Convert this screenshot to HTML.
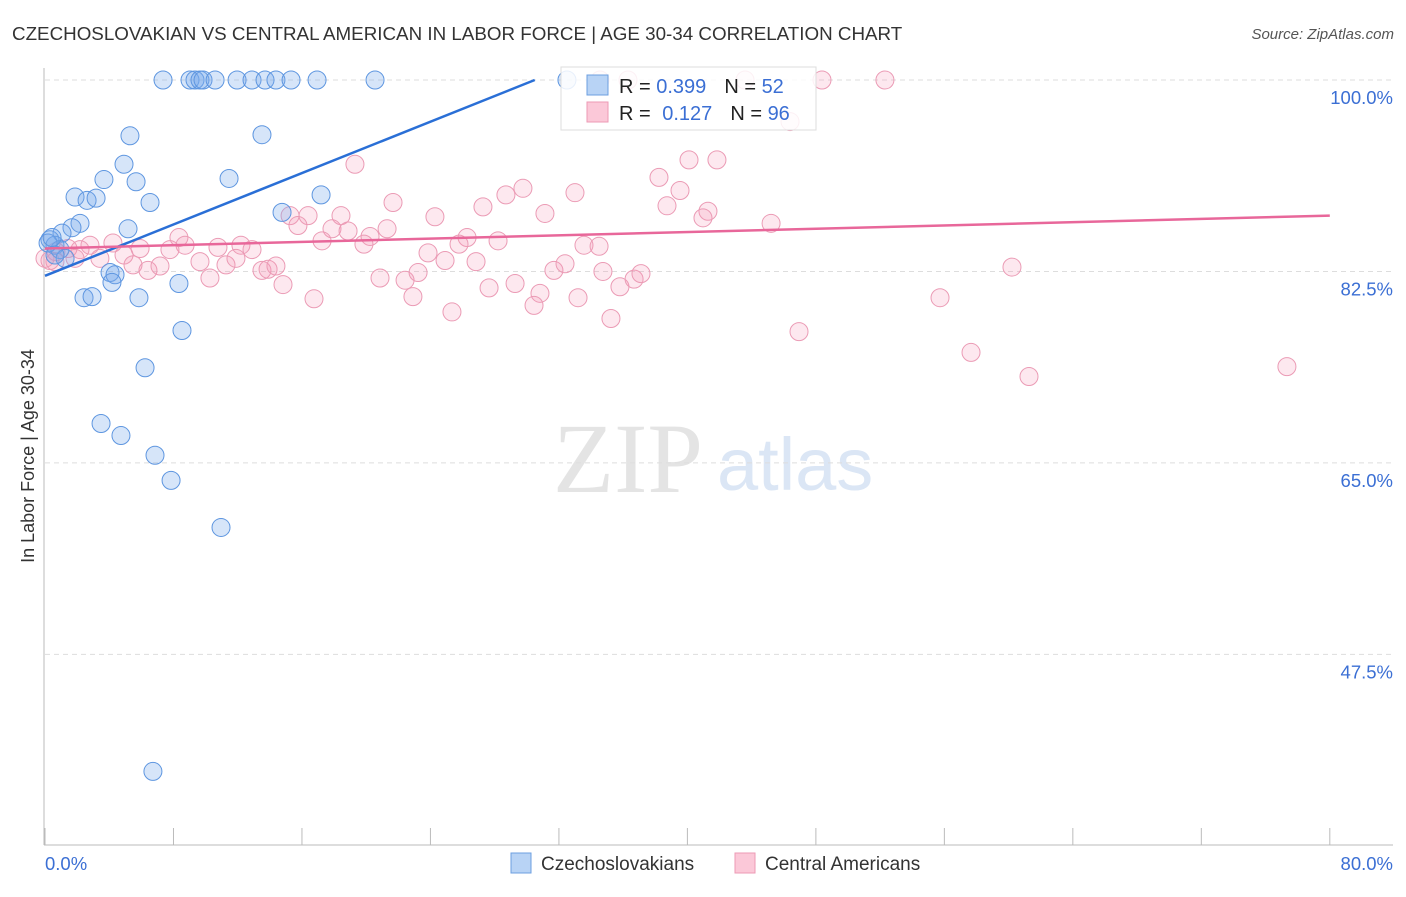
<!DOCTYPE html>
<html><head><meta charset="utf-8"><style>
body{margin:0;background:#fff;font-family:"Liberation Sans",sans-serif}
svg text{font-family:"Liberation Sans",sans-serif}
</style></head><body>
<svg width="1406" height="892" xmlns="http://www.w3.org/2000/svg">
<text x="12" y="40" font-size="18.8" fill="#333">CZECHOSLOVAKIAN VS CENTRAL AMERICAN IN LABOR FORCE | AGE 30-34 CORRELATION CHART</text>
<text x="1394" y="39" font-size="15" fill="#555" font-style="italic" text-anchor="end">Source: ZipAtlas.com</text>
<g>
<text x="553" y="492" font-size="100" fill="#e4e4e4" style="font-family:'Liberation Serif',serif">ZIP</text>
<text x="717" y="490" font-size="74" fill="#dbe6f5">atlas</text>
</g>
<g id="grid"></g><g id="axes"></g><g id="pts"></g><g id="lines"></g>
<text transform="translate(34,456) rotate(-90)" font-size="18" fill="#333" text-anchor="middle">In Labor Force | Age 30-34</text>
<g>
<rect x="561" y="67" width="255" height="63" fill="#fff" fill-opacity="0.85" stroke="#ddd"/>
<rect x="587" y="75" width="21" height="20" fill="#b8d3f5" stroke="#6c9fe0"/>
<text x="619" y="93" font-size="20" fill="#222">R = <tspan fill="#3b6fd4">0.399</tspan><tspan dx="18">N = </tspan><tspan fill="#3b6fd4">52</tspan></text>
<rect x="587" y="102" width="21" height="20" fill="#fbc8d8" stroke="#ec9ab5"/>
<text x="619" y="120" font-size="20" fill="#222">R = <tspan dx="6" fill="#3b6fd4">0.127</tspan><tspan dx="18">N = </tspan><tspan fill="#3b6fd4">96</tspan></text>
</g>
<g>
<rect x="511" y="853" width="20" height="20" fill="#b8d3f5" stroke="#6c9fe0"/>
<text x="541" y="870" font-size="19" fill="#333">Czechoslovakians</text>
<rect x="735" y="853" width="20" height="20" fill="#fbc8d8" stroke="#ec9ab5"/>
<text x="765" y="870" font-size="19" fill="#333">Central Americans</text>
</g>
</svg>
<script>
const blueX=[7.35,9.03,9.34,9.65,9.84,10.59,11.96,12.89,13.70,14.38,15.32,16.94,20.55,32.50,5.29,13.51,4.92,3.67,5.67,11.46,1.87,2.62,3.18,6.54,17.19,2.18,1.68,1.06,5.17,14.76,0.31,0.62,0.93,1.25,4.05,4.36,4.17,2.43,2.93,5.85,8.34,8.53,6.23,3.49,4.73,6.85,7.85,10.96,6.72,0.19,0.62,0.44];
const blueY=[100,100,100,100,100,100,100,100,100,100,100,100,100,100,94.9,95.0,92.3,90.9,90.7,91.0,89.3,89.0,89.2,88.8,89.5,86.9,86.5,86.0,86.4,87.9,85.4,84.9,84.5,83.7,82.4,82.2,81.5,80.1,80.2,80.1,81.4,77.1,73.7,68.6,67.5,65.7,63.4,59.1,36.8,85.1,84.0,85.6];
const pinkX=[34.56,36.30,43.59,48.38,52.30,46.39,19.30,40.10,41.84,38.23,29.76,33.0,39.54,28.70,38.73,41.28,21.67,27.27,31.13,24.28,40.97,45.21,15.26,16.38,15.75,18.43,17.87,18.87,21.30,20.24,19.86,17.25,26.28,28.21,25.78,33.56,34.50,23.85,8.34,8.72,12.20,12.89,10.77,7.78,5.92,4.23,2.80,2.18,1.43,0.68,0.31,3.42,4.92,5.48,6.41,7.16,9.65,11.27,11.89,10.27,13.51,13.89,14.38,14.82,16.75,20.86,22.42,23.23,24.91,26.84,27.65,29.27,30.82,30.45,31.69,32.38,33.19,34.74,22.91,25.34,35.24,35.80,36.68,37.11,55.73,60.21,46.95,57.66,61.27,77.33,0.62,1.87,0];
const pinkY=[100,100,100,100,100,96.2,92.3,92.7,92.7,91.1,90.1,89.7,89.9,89.5,88.5,88.0,88.8,88.4,87.8,87.5,87.4,86.9,87.6,87.6,86.7,87.6,86.4,86.2,86.4,85.7,85.0,85.3,85.6,85.3,85.0,84.9,84.8,84.2,85.6,84.9,84.9,84.5,84.7,84.5,84.6,85.1,84.9,84.5,84.6,84.3,83.5,83.7,84.0,83.1,82.6,83.0,83.4,83.1,83.7,81.9,82.6,82.7,83.0,81.3,80.0,81.9,81.7,82.4,83.5,83.4,81.0,81.4,80.5,79.4,82.6,83.2,80.1,82.5,80.2,78.8,78.2,81.1,81.8,82.3,80.1,82.9,77.0,75.1,72.9,73.8,83.4,83.7,83.7];
const yTicks=[100,82.5,65,47.5];
const yTickLabels=["100.0%","82.5%","65.0%","47.5%"];
const xTicks=[0,8,16,24,32,40,48,56,64,72,80];
const blueTrend=[82.1,0.587];
const pinkTrend=[84.6,0.0375];
const NS="http://www.w3.org/2000/svg";
const sx=v=>45+v*16.06;
const sy=v=>80+(100-v)*10.94;
function mk(p,t,a){const e=document.createElementNS(NS,t);for(const k in a)e.setAttribute(k,a[k]);p.appendChild(e);return e;}
const grid=document.getElementById('grid'),axes=document.getElementById('axes'),pts=document.getElementById('pts'),lines=document.getElementById('lines');
yTicks.forEach((v,i)=>{
 const l=mk(grid,'line',{x1:45,x2:1393,y1:sy(v),y2:sy(v),stroke:'#ddd','stroke-dasharray':'5,4'});
 
 
 const t=mk(grid,'text',{x:1393,y:sy(v)+24,'font-size':18.5,fill:'#3b6fd4','text-anchor':'end'});
 t.textContent=yTickLabels[i];
 
 
});
const ya=mk(axes,'line',{x1:44,x2:44,y1:68,y2:845,stroke:'#bbb'});


const xa=mk(axes,'line',{x1:44,x2:1393,y1:845,y2:845,stroke:'#bbb'});


xTicks.forEach(v=>{
 const l=mk(axes,'line',{x1:sx(v),x2:sx(v),y1:828,y2:845,stroke:'#bbb'});
 
 
});
const x0=mk(axes,'text',{x:45,y:870,'font-size':18.5,fill:'#3b6fd4'});x0.textContent='0.0%';


const x1=mk(axes,'text',{x:1393,y:870,'font-size':18.5,fill:'#3b6fd4','text-anchor':'end'});x1.textContent='80.0%';


pinkX.forEach((x,i)=>{
 const c=mk(pts,'circle',{cx:sx(x),cy:sy(pinkY[i]),r:9,fill:'rgba(245,150,180,0.22)',stroke:'#eb9bb5','stroke-width':1});
 
 
});
blueX.forEach((x,i)=>{
 const c=mk(pts,'circle',{cx:sx(x),cy:sy(blueY[i]),r:9,fill:'rgba(120,170,235,0.3)',stroke:'#5e96e0','stroke-width':1});
 
 
});
const bxEnd=(100-blueTrend[0])/blueTrend[1];
const bl=mk(lines,'line',{x1:sx(0),y1:sy(blueTrend[0]),x2:sx(bxEnd),y2:sy(100),stroke:'#2a6fd6','stroke-width':2.5});


const pl=mk(lines,'line',{x1:sx(0),y1:sy(pinkTrend[0]),x2:sx(80),y2:sy(pinkTrend[0]+80*pinkTrend[1]),stroke:'#e8679a','stroke-width':2.5});


</script>
</body></html>
